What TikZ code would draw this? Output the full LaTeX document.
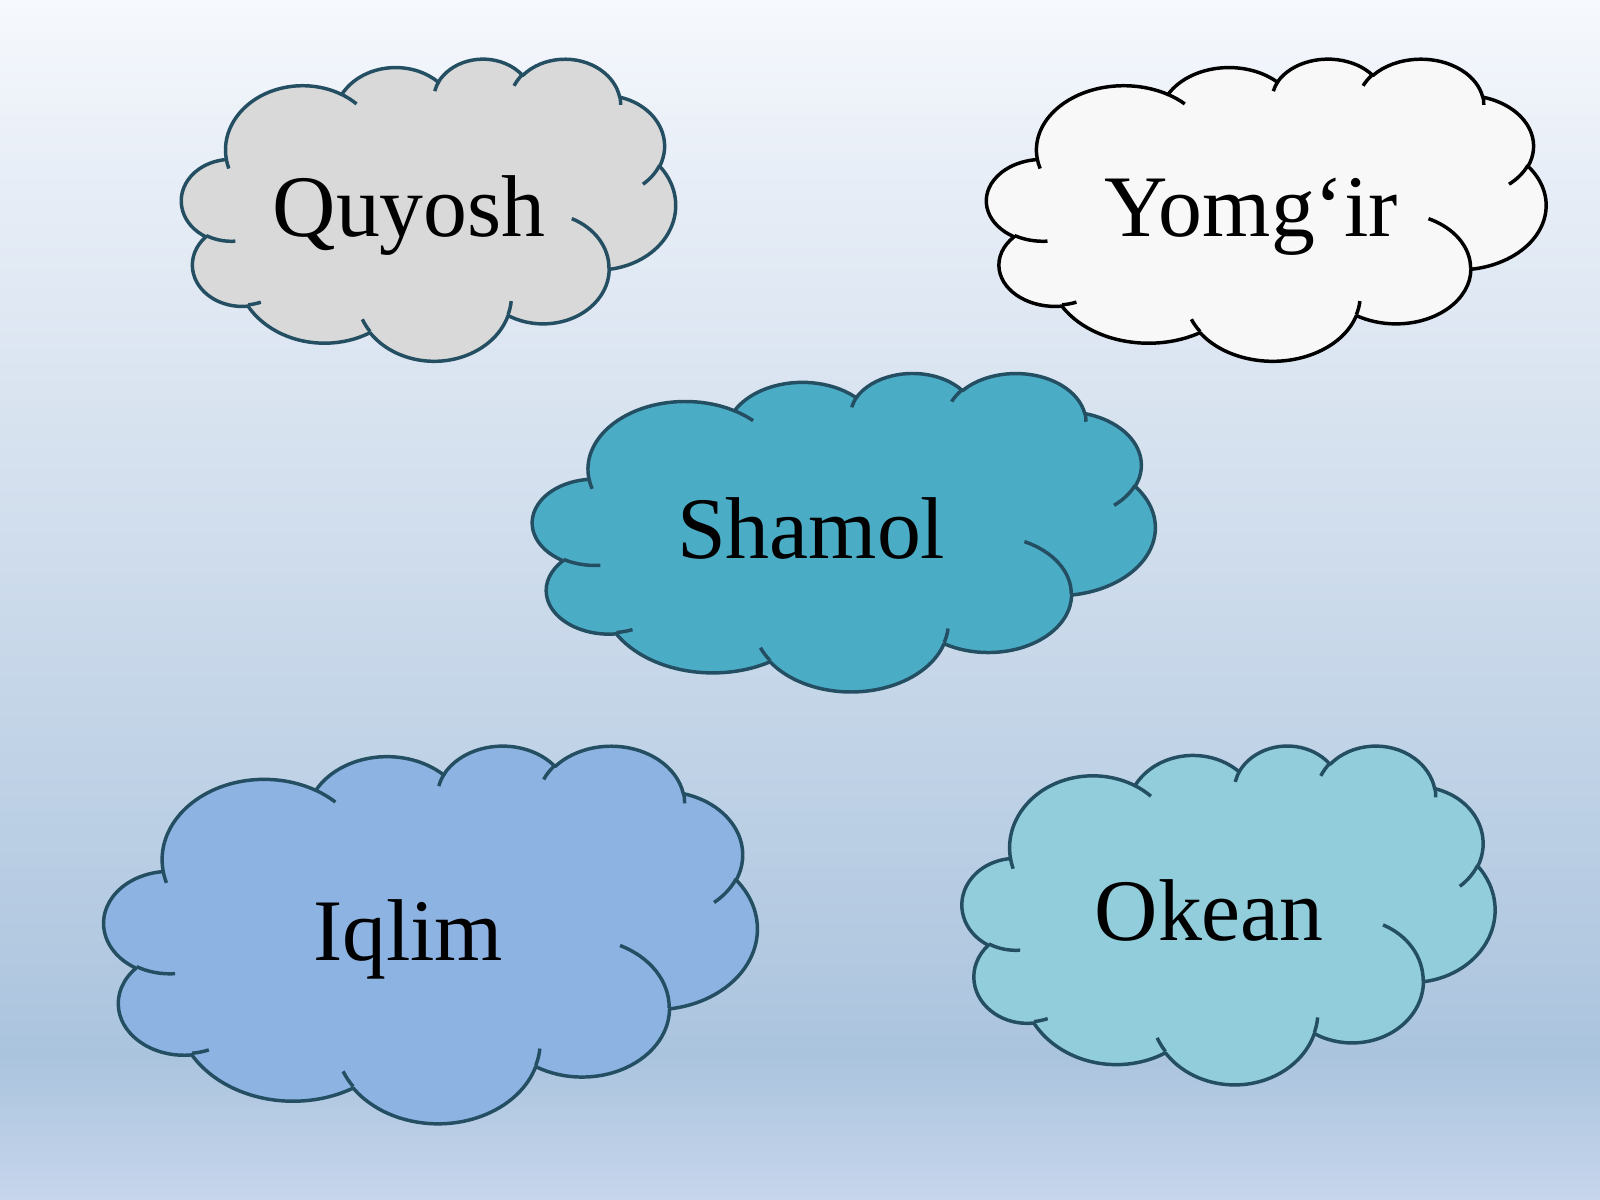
\documentclass[tikz,border=0pt]{standalone}
\usepackage{fontspec}
\setmainfont{Liberation Serif}
\usepackage{xcolor}
\usepackage{tikz}

% one lobe of the cloud outline: x radius, y radius, start angle, sweep
\newcommand\cloudarc[4]{%
  \pgfextra{%
    \pgfmathparse{atan2(#1*sin(#3),#2*cos(#3))}\xdef\cloudta{\pgfmathresult}%
    \pgfmathparse{atan2(#1*sin(#3+#4),#2*cos(#3+#4))}\xdef\cloudtb{\pgfmathresult}%
    \pgfmathparse{\cloudtb+360*(\cloudtb<\cloudta)}\xdef\cloudtb{\pgfmathresult}%
  }%
  arc[start angle=\cloudta, end angle=\cloudtb, x radius=#1, y radius=#2]}

% cloud in the box (x0,y0) w x h: fill, edge
\newcommand\cloud[6]{%
  \begin{scope}[shift={(#1,#2)}, xscale=#3/432, yscale=#4/432]
    \filldraw[cloudline, fill=#5, draw=#6] (39,143.7)
      \cloudarc{67.53}{91.90}{-190.4875}{123.7805}
      \cloudarc{53.33}{72.67}{-144.1024}{89.9452}
      \cloudarc{43.65}{59.45}{-145.8079}{99.7230}
      \cloudarc{48.57}{65.95}{-130.9861}{117.2417}
      \cloudarc{53.33}{72.73}{-78.7089}{109.0269}
      \cloudarc{67.75}{92.20}{-46.2673}{130.2690}
      \cloudarc{57.85}{78.67}{0.6250}{114.0333}
      \cloudarc{67.52}{92.15}{22.4516}{115.1726}
      \cloudarc{77.20}{105.43}{66.2426}{75.7110}
      \cloudarc{43.60}{59.18}{-274.9421}{146.7356}
      \cloudarc{43.45}{59.45}{-246.8285}{152.5189} -- cycle;
    \draw[cloudline, draw=#6]
      (46.93,261.77) \cloudarc{43.45}{59.45}{86.7420}{26.4295}
      (69.28,348.99) \cloudarc{43.60}{59.18}{73.6105}{11.4475}
      (164.78,390.90) \cloudarc{67.52}{92.15}{137.6242}{14.0811}
      (288.27,347.51) \cloudarc{67.52}{92.15}{6.4533}{15.9984}
      (341.29,229.54) \cloudarc{57.85}{78.67}{-70.2924}{70.9174}
      (417.98,153.54) \cloudarc{53.33}{72.73}{30.3180}{27.7515}
      (383.24,54.26) \cloudarc{48.57}{65.95}{-13.7443}{14.8589}
      (290.78,39.52) \cloudarc{48.57}{65.95}{-149.1815}{18.1954}
      (221.41,47.20) \cloudarc{43.65}{59.45}{-163.4943}{17.6864}
      (140.00,51.92) \cloudarc{67.53}{91.90}{-66.7070}{12.3194}
      (41.27,157.89) \cloudarc{67.53}{91.90}{157.6544}{11.8582};
  \end{scope}}

\definecolor{skytop}{HTML}{F6F9FD}
\definecolor{skyhigh}{HTML}{E8EEF7}
\definecolor{skymid}{HTML}{D4E0EE}
\definecolor{skydark}{HTML}{ABC4DE}
\definecolor{skybot}{HTML}{C6D5EC}
% only 25bp..75bp is seen on the path
\pgfdeclareverticalshading{sky}{100bp}{color(0bp)=(skybot); color(25bp)=(skybot);
  color(31bp)=(skydark); color(55bp)=(skymid); color(68bp)=(skyhigh);
  color(75bp)=(skytop); color(100bp)=(skytop)}

\begin{document}
\begin{tikzpicture}
    [%%%%%%%%%%%%%%%%%%%%%%%%%%%%%%
        x=0.5pt, y=-0.5pt,
        cloudline/.style={line width=1.7pt, line join=round},
        word/.style={anchor=base, inner sep=0pt, font=\fontsize{43}{50}\selectfont}
    ]%%%%%%%%%%%%%%%%%%%%%%%%%%%%%%
\definecolor{edge}{HTML}{244E62}
\definecolor{grey}{HTML}{D9D9D9}
\definecolor{snow}{HTML}{F8F8F8}
\definecolor{teal}{HTML}{4BACC6}
\definecolor{sky}{HTML}{8DB3E2}
\definecolor{aqua}{HTML}{92CDDC}

\shade[shading=sky] (0,0) rectangle (1568,1176);
\useasboundingbox (0,0) rectangle (1568,1176);

\cloud{178}{57}{484}{296}{grey}{edge}
\cloud{967}{57}{548}{296}{snow}{black}
\cloud{522}{365}{610}{312}{teal}{edge}
\cloud{102}{730}{640}{370}{sky}{edge}
\cloud{943}{730}{522}{332}{aqua}{edge}

\node[word] (quyosh) at (401,232) {Quyosh};
\node[word] (yomgir) at (1226,232) {Yomg‘ir};
\node[word] (shamol) at (795,547) {Shamol};
\node[word] (iqlim) at (400,941) {Iqlim};
\node[word] (okean) at (1185,922) {Okean};

\end{tikzpicture}
\end{document}
